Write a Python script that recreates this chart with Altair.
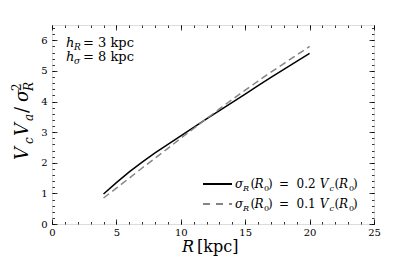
import altair as alt
import pandas as pd

# ---- data ----
R = [4, 5, 6, 7, 8, 9, 10, 11, 12, 13, 14, 15, 16, 17, 18, 19, 20]
ratio_02 = [0.98, 1.35, 1.70, 2.02, 2.32, 2.60, 2.88, 3.155, 3.43, 3.70, 3.97, 4.245, 4.52, 4.79, 5.05, 5.31, 5.57]
ratio_01 = [0.85, 1.17, 1.50, 1.83, 2.15, 2.47, 2.80, 3.12, 3.44, 3.76, 4.07, 4.37, 4.67, 4.96, 5.24, 5.52, 5.80]

x_major = [0, 5, 10, 15, 20, 25]
x_minor = list(range(0, 26))
y_major = [0, 1, 2, 3, 4, 5, 6]
y_minor = [round(0.2 * i, 1) for i in range(0, 33)]

solid = pd.DataFrame({"R": R, "v": ratio_02})
dashed = pd.DataFrame({"R": R, "v": ratio_01})

FONT = "DejaVu Serif"
W, H = 322, 199

xs = alt.Scale(domain=[0, 25], nice=False, zero=False)
ys = alt.Scale(domain=[0, 6.5], nice=False, zero=False)


def tick_axis(orient, values, size):
    return alt.Axis(orient=orient, values=values, tickSize=size, offset=-size,
                    labels=False, domain=False, grid=False, title=None,
                    ticks=True, tickColor="black", tickWidth=0.8)


x_lab = alt.Axis(orient="bottom", values=x_major, ticks=False, domain=False, grid=False,
                 title=None, labelFont=FONT, labelFontSize=10, labelColor="black",
                 labelPadding=3, labelFlush=False)
y_lab = alt.Axis(orient="left", values=y_major, ticks=False, domain=False, grid=False,
                 title=None, labelFont=FONT, labelFontSize=10, labelColor="black",
                 labelPadding=5, labelFlush=False)

l1 = alt.Chart(solid).mark_line(color="black", strokeWidth=1.5).encode(
    x=alt.X("R:Q", scale=xs, axis=x_lab), y=alt.Y("v:Q", scale=ys, axis=y_lab))
l2 = alt.Chart(dashed).mark_line(color="#858585", strokeWidth=1.5, strokeDash=[7, 4]).encode(
    x=alt.X("R:Q", scale=xs, axis=tick_axis("bottom", x_major, 5)),
    y=alt.Y("v:Q", scale=ys, axis=tick_axis("left", y_major, 5)))
l3 = alt.Chart(solid).mark_line(opacity=0).encode(
    x=alt.X("R:Q", scale=xs, axis=tick_axis("bottom", x_minor, 2.5)),
    y=alt.Y("v:Q", scale=ys, axis=tick_axis("left", y_minor, 2.5)))
l4 = alt.Chart(solid).mark_line(opacity=0).encode(
    x=alt.X("R:Q", scale=xs, axis=tick_axis("top", x_major, 5)),
    y=alt.Y("v:Q", scale=ys, axis=tick_axis("right", y_major, 5)))
l5 = alt.Chart(solid).mark_line(opacity=0).encode(
    x=alt.X("R:Q", scale=xs, axis=tick_axis("top", x_minor, 2.5)),
    y=alt.Y("v:Q", scale=ys, axis=tick_axis("right", y_minor, 2.5)))

# ---- text pieces (pixel positions inside the chart) ----
# (text, x, y, size, italic)
pieces = [
    # annotations
    ("h", 14, 22, 13, True), ("R", 22, 25, 9, True), ("= 3 kpc", 31, 22, 13, False),
    ("h", 14, 36, 13, True), ("σ", 22, 39, 9, True), ("= 8 kpc", 31, 36, 13, False),
    # x title
    ("R", 130, 227, 16, True), ("[kpc]", 145, 227, 16, False),
]
for base, coef in [(163, "0.2"), (183, "0.1")]:
    sub = base + 3
    pieces += [
        ("σ", 183, base, 12, True), ("R", 191, sub, 8, True),
        ("(", 198.5, base, 12, False), ("R", 202.5, base, 12, True),
        ("0", 212, sub, 8, False), (")", 216, base, 12, False),
        ("=", 227, base, 12, False), (coef, 244.5, base, 12, False),
        ("V", 267.8, base, 12, True), ("c", 277.5, sub, 8, True),
        ("(", 282.6, base, 12, False), ("R", 287, base, 12, True),
        ("0", 297, sub, 8, False), (")", 301, base, 12, False),
    ]
pdf = pd.DataFrame(pieces, columns=["t", "px", "py", "fs", "it"])

# rotated y title pieces: (text, x(baseline), y(start), size, italic)
ypieces = [
    ("V", -24, 135, 18, True), ("c", -19, 119, 12, True),
    ("V", -24, 111, 18, True), ("a", -19, 96, 12, True),
    ("/", -24, 88, 18, False), ("σ", -24, 77, 18, True),
    ("R", -19, 66, 12, True), ("2", -31, 66, 12, False),
]
ydf = pd.DataFrame(ypieces, columns=["t", "px", "py", "fs", "it"])


def text_layer(df, italic, angle=0):
    return alt.Chart(df[df.it == italic]).mark_text(
        font=FONT, fontStyle="italic" if italic else "normal", align="left",
        baseline="alphabetic", color="black", angle=angle).encode(
        x=alt.X("px:Q", scale=None, axis=None),
        y=alt.Y("py:Q", scale=None, axis=None),
        size=alt.Size("fs:Q", scale=None, legend=None),
        text="t:N")


t1 = text_layer(pdf, True)
t2 = text_layer(pdf, False)
t3 = text_layer(ydf, True, 270)
t4 = text_layer(ydf, False, 270)

leg1 = alt.Chart(solid).mark_rule(color="black", strokeWidth=1.5).encode(
    x=alt.value(151), x2=alt.value(180), y=alt.value(159))
leg2 = alt.Chart(solid).mark_rule(color="#858585", strokeWidth=1.5, strokeDash=[7, 6]).encode(
    x=alt.value(151), x2=alt.value(180), y=alt.value(179))

chart = alt.layer(l1, l2, l3, l4, l5, leg1, leg2, t1, t2, t3, t4).resolve_axis(
    x="independent", y="independent"
).properties(
    width=W, height=H,
    autosize=alt.AutoSizeParams(type="none"),
    padding={"left": 44, "top": 17, "right": 33, "bottom": 36},
).configure_view(stroke="black", strokeWidth=1).configure(background="white")

chart.save("out.html", embed_options={"renderer": "svg", "actions": False})
